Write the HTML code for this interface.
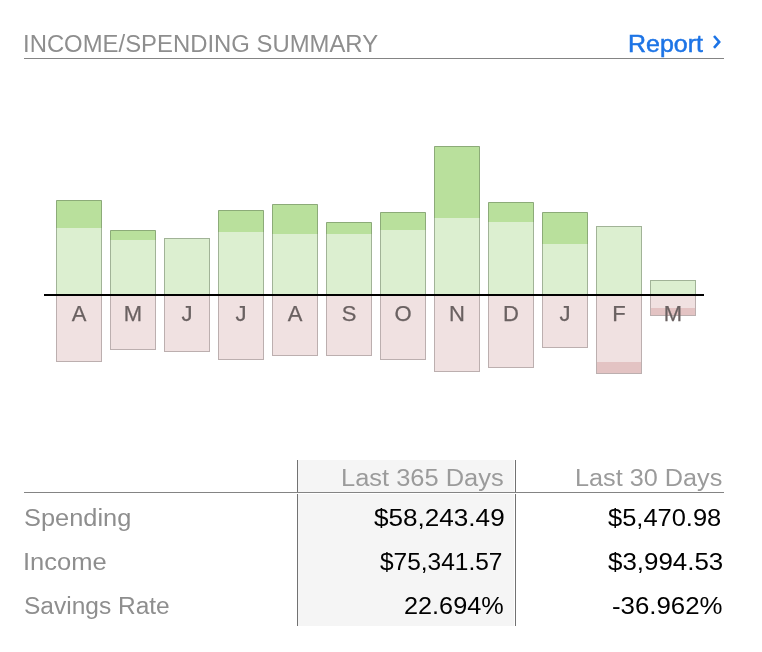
<!DOCTYPE html>
<html><head><meta charset="utf-8"><title>Income/Spending Summary</title>
<style>
html,body{margin:0;padding:0;background:#fff}
body{width:762px;height:652px;position:relative;overflow:hidden;font-family:"Liberation Sans",sans-serif;font-size:23.5px;color:#000}
.t{position:absolute;white-space:nowrap;line-height:26px;height:26px;transform-origin:0 0}
.rp{color:#1d74e6;-webkit-text-stroke:0.5px #1d74e6}
.r{text-align:right}
.gray{color:#8e8e8e}
.hd{color:#9b9b9b}
.s{font-size:23px}
.hl{position:absolute;height:1px;background:#848484}
.vl{position:absolute;width:1px;background:#727272}
.g{position:absolute;width:46px;box-sizing:border-box;background:#dcefd0;border:1px solid #a1b397;border-bottom:none}
.g i{display:block;background:#b9e09c;box-shadow:0 -1px 0 #8cab78,-1px 0 0 #8cab78,1px 0 0 #8cab78}
.p{position:absolute;width:46px;box-sizing:border-box;background:#f0e1e1;border:1px solid #bcafaf;border-top:none;overflow:hidden}
.p i{position:absolute;left:0;right:0;bottom:0;background:#e3c3c3}
.l{position:absolute;top:301px;width:46px;text-align:center;font-size:22px;line-height:26px;color:#6a6161;-webkit-text-stroke:0.25px #6a6161}
.ax{position:absolute;left:44px;top:294px;width:660px;height:2px;background:#000}
</style></head><body>
<div class="t gray" style="left:22.9px;top:30.6px;transform:scaleX(1.016)">INCOME/SPENDING SUMMARY</div>
<div class="t rp" style="left:628.2px;top:30.6px;transform:scaleX(1.062)">Report</div>
<svg style="position:absolute;left:711px;top:33px" width="12" height="18" viewBox="0 0 12 18"><path d="M3 3 L8.2 8.9 L3 14.8" fill="none" stroke="#1d74e6" stroke-width="2.6" stroke-linejoin="miter"/></svg>
<div class="hl" style="left:24px;top:58px;width:700px"></div>

<div class="g" style="left:56px;top:200px;height:95px"><i style="height:27px"></i></div>
<div class="p" style="left:56px;top:295px;height:67px"></div>
<div class="l" style="left:56px">A</div>
<div class="g" style="left:110px;top:230px;height:65px"><i style="height:9px"></i></div>
<div class="p" style="left:110px;top:295px;height:55px"></div>
<div class="l" style="left:110px">M</div>
<div class="g" style="left:164px;top:238px;height:57px"></div>
<div class="p" style="left:164px;top:295px;height:57px"><i style="top:56px"></i></div>
<div class="l" style="left:164px">J</div>
<div class="g" style="left:218px;top:210px;height:85px"><i style="height:21px"></i></div>
<div class="p" style="left:218px;top:295px;height:65px"></div>
<div class="l" style="left:218px">J</div>
<div class="g" style="left:272px;top:204px;height:91px"><i style="height:29px"></i></div>
<div class="p" style="left:272px;top:295px;height:61px"></div>
<div class="l" style="left:272px">A</div>
<div class="g" style="left:326px;top:222px;height:73px"><i style="height:11px"></i></div>
<div class="p" style="left:326px;top:295px;height:61px"></div>
<div class="l" style="left:326px">S</div>
<div class="g" style="left:380px;top:212px;height:83px"><i style="height:17px"></i></div>
<div class="p" style="left:380px;top:295px;height:65px"></div>
<div class="l" style="left:380px">O</div>
<div class="g" style="left:434px;top:146px;height:149px"><i style="height:71px"></i></div>
<div class="p" style="left:434px;top:295px;height:77px"></div>
<div class="l" style="left:434px">N</div>
<div class="g" style="left:488px;top:202px;height:93px"><i style="height:19px"></i></div>
<div class="p" style="left:488px;top:295px;height:73px"></div>
<div class="l" style="left:488px">D</div>
<div class="g" style="left:542px;top:212px;height:83px"><i style="height:31px"></i></div>
<div class="p" style="left:542px;top:295px;height:53px"></div>
<div class="l" style="left:542px">J</div>
<div class="g" style="left:596px;top:226px;height:69px"></div>
<div class="p" style="left:596px;top:295px;height:79px"><i style="top:67px"></i></div>
<div class="l" style="left:596px">F</div>
<div class="g" style="left:650px;top:280px;height:15px"></div>
<div class="p" style="left:650px;top:295px;height:21px"><i style="top:13px"></i></div>
<div class="l" style="left:650px">M</div>
<div class="ax"></div>

<div style="position:absolute;left:298px;top:460px;width:216px;height:166px;background:#f5f5f5"></div>
<div class="vl" style="left:297px;top:460px;height:166px"></div>
<div class="vl" style="left:515px;top:460px;height:166px"></div>
<div class="hl" style="left:24px;top:492px;width:700px"></div>
<div style="position:absolute;left:297px;top:493px;width:219px;height:1px;background:#fff"></div>

<div class="t hd s" style="left:340.9px;top:464.7px;transform:scaleX(1.106)">Last 365 Days</div>
<div class="t hd s" style="left:575.0px;top:464.7px;transform:scaleX(1.097)">Last 30 Days</div>
<div class="t gray s" style="left:23.9px;top:504.7px;transform:scaleX(1.104)">Spending</div>
<div class="t gray s" style="left:22.8px;top:548.7px;transform:scaleX(1.109)">Income</div>
<div class="t gray s" style="left:24.0px;top:592.7px;transform:scaleX(1.065)">Savings Rate</div>
<div class="t s" style="left:373.5px;top:504.7px;transform:scaleX(1.135)">$58,243.49</div>
<div class="t s" style="left:379.5px;top:548.7px;transform:scaleX(1.063)">$75,341.57</div>
<div class="t s" style="left:403.9px;top:592.7px;transform:scaleX(1.098)">22.694%</div>
<div class="t s" style="left:607.5px;top:504.7px;transform:scaleX(1.107)">$5,470.98</div>
<div class="t s" style="left:607.5px;top:548.7px;transform:scaleX(1.126)">$3,994.53</div>
<div class="t s" style="left:612.2px;top:592.7px;transform:scaleX(1.123)">-36.962%</div>
</body></html>
